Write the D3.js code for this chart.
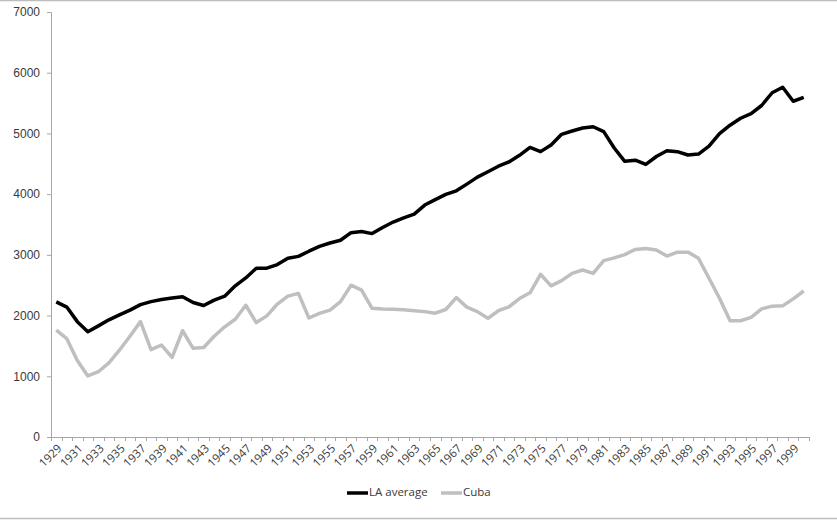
<!DOCTYPE html>
<html>
<head>
<meta charset="utf-8">
<script src="https://cdn.jsdelivr.net/npm/d3@7"></script>
<style>
  html, body { margin: 0; padding: 0; background: #fff; }
  svg { display: block; font-family: "Open Sans", "Noto Sans", sans-serif; }
</style>
</head>
<body>
<svg id="chart" width="837" height="520"></svg>
<script>
const years = d3.range(1929, 2001);
const yTicks = [0, 1000, 2000, 3000, 4000, 5000, 6000, 7000];
const seriesNames = ["LA average", "Cuba"];
const laAverage = [
  2225, 2140, 1900, 1735, 1830, 1930, 2010, 2090, 2180, 2230,
  2265, 2290, 2310, 2215, 2165, 2255, 2320, 2490, 2620, 2780,
  2780, 2840, 2945, 2975, 3060, 3140, 3195, 3240, 3365, 3385,
  3350, 3450, 3540, 3610, 3670, 3820, 3910, 3995, 4055, 4165,
  4280, 4370, 4460, 4530, 4640, 4770, 4700, 4810, 4985, 5040,
  5090, 5110, 5030, 4760, 4540, 4560, 4490, 4620, 4715, 4700,
  4645, 4660, 4790, 4995, 5135, 5250, 5325, 5460, 5670, 5760,
  5530, 5595
];
const cuba = [
  1760, 1620, 1260, 1005, 1075, 1220, 1430, 1660, 1900, 1440,
  1515, 1310, 1750, 1460, 1475, 1660, 1815, 1940, 2170, 1885,
  1995, 2190, 2320, 2365, 1960, 2035, 2090, 2230, 2500, 2420,
  2120, 2110, 2105, 2095, 2080, 2065, 2040, 2100, 2295, 2140,
  2065, 1955, 2080, 2145, 2280, 2375, 2680, 2490, 2575, 2695,
  2750, 2695, 2905, 2950, 3005, 3090, 3105, 3080, 2980, 3045,
  3045, 2945, 2615, 2285, 1915, 1915, 1970, 2110, 2155, 2160,
  2275, 2405
];
const colors = ["#000000", "#bfbfbf"];

(function () {
const svg = d3.select("#chart");
const W = 837;
const mLeft = 51, mRight = 809, mTop = 12, mBottom = 437;

// frame lines (top / bottom)
svg.append("line").attr("x1", 0).attr("x2", W).attr("y1", 0.5).attr("y2", 0.5)
  .attr("stroke", "#bdbdbd").attr("stroke-width", 1.5);
svg.append("line").attr("x1", 0).attr("x2", W).attr("y1", 518.5).attr("y2", 518.5)
  .attr("stroke", "#bdbdbd").attr("stroke-width", 1.5);

const x = d3.scaleBand().domain(years).range([mLeft, mRight]).paddingInner(0).paddingOuter(0);
const y = d3.scaleLinear().domain([0, 7000]).range([mBottom, mTop]);

// Y axis
const yAxis = svg.append("g").attr("transform", `translate(${mLeft},0)`)
  .call(d3.axisLeft(y).tickValues(yTicks).tickSize(4).tickPadding(7).tickFormat(d3.format("d")));
yAxis.select(".domain").attr("stroke", "#a6a6a6");
yAxis.selectAll(".tick line").attr("stroke", "#a6a6a6");
yAxis.selectAll("text").attr("fill", "#3a3a3a").style("font-size", "12px");

// X axis: line + ticks at band boundaries
const xg = svg.append("g");
xg.append("line").attr("x1", mLeft).attr("x2", mRight).attr("y1", mBottom + 0.5).attr("y2", mBottom + 0.5)
  .attr("stroke", "#a6a6a6");
const bounds = years.map(d => x(d)).concat([x(years[years.length - 1]) + x.bandwidth()]);
xg.selectAll("line.tk").data(bounds).enter().append("line").attr("class", "tk")
  .attr("x1", d => Math.round(d) + 0.5).attr("x2", d => Math.round(d) + 0.5)
  .attr("y1", mBottom).attr("y2", mBottom + 4).attr("stroke", "#a6a6a6");
const labYears = years.filter((d, i) => i % 2 === 0);
xg.selectAll("text.lab").data(labYears).enter().append("text").attr("class", "lab")
  .attr("transform", d => `translate(${x(d) + x.bandwidth() / 2 + 4},${mBottom + 10}) rotate(-45)`)
  .attr("text-anchor", "end").attr("dominant-baseline", "middle")
  .attr("fill", "#3a3a3a").style("font-size", "11.5px").text(d => d);

// Lines
const series = [laAverage, cuba];
const line = d3.line().x((d, i) => x(years[i]) + x.bandwidth() / 2).y(d => y(d));
series.forEach((s, k) => {
  svg.append("path").datum(s).attr("d", line).attr("fill", "none")
    .attr("stroke", colors[k]).attr("stroke-width", 3.5)
    .attr("stroke-linejoin", "round").attr("stroke-linecap", "butt");
});

// Legend
const legY = 493;
const legX = [347, 441];
legX.forEach((lx, k) => {
  svg.append("line").attr("x1", lx).attr("x2", lx + 21).attr("y1", legY).attr("y2", legY)
    .attr("stroke", colors[k]).attr("stroke-width", 3.5);
  svg.append("text").attr("x", lx + 22).attr("y", legY).attr("dominant-baseline", "middle")
    .attr("fill", "#3a3a3a").style("font-size", "11.5px").text(seriesNames[k]);
});
})();
</script>
</body>
</html>
